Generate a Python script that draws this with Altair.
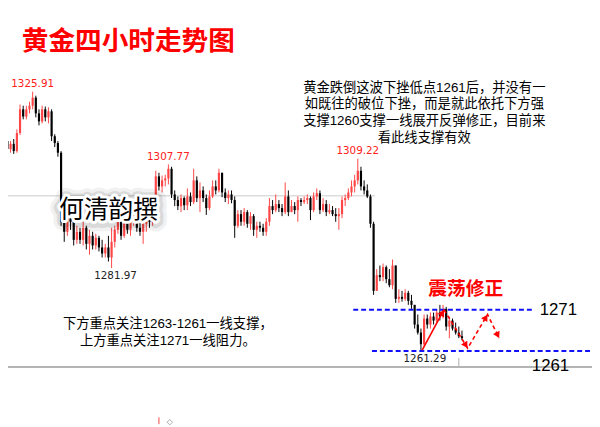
import math
import altair as alt
import pandas as pd

TITLE = "黄金四小时走势图"
NOTE_TOP = [
    "黄金跌倒这波下挫低点1261后，并没有一",
    "如既往的破位下挫，而是就此依托下方强",
    "支撑1260支撑一线展开反弹修正，目前来",
    "看此线支撑有效",
]
NOTE_BOTTOM = ["下方重点关注1263-1261一线支撑，", "上方重点关注1271一线阻力。"]
AUTHOR = "何清韵撰"
TAG = "震荡修正"

FIRST_INDEX = 2
FIRST_OPEN = 1313.6
CLOSE = [
    1311.6, 1312.9, 1311.1, 1315.6, 1321.5, 1319.7, 1321.5, 1322.4, 1324.4, 1320.5,
    1318.5, 1321.5, 1319.5, 1321.0, 1314.8, 1313.1, 1310.7, 1293.5, 1291.0, 1294.4,
    1293.5, 1289.0, 1291.0, 1289.0, 1292.0, 1288.0, 1290.0, 1287.6, 1289.5, 1287.1,
    1285.6, 1287.1, 1284.6, 1288.5, 1291.5, 1293.5, 1290.0, 1293.5, 1291.5, 1293.5,
    1294.9, 1292.0, 1291.0, 1293.0, 1293.9, 1293.5, 1294.9, 1304.8, 1302.3, 1303.8,
    1304.3, 1306.7, 1300.3, 1298.9, 1297.4, 1299.4, 1297.6, 1299.8, 1298.4, 1303.8,
    1299.4, 1301.3, 1299.4, 1296.9, 1299.8, 1302.3, 1301.3, 1305.7, 1300.8, 1299.4,
    1300.3, 1298.9, 1292.5, 1295.4, 1293.5, 1295.9, 1293.0, 1294.9, 1291.5, 1292.5,
    1292.0, 1291.0, 1293.5, 1297.4, 1296.4, 1297.9, 1296.9, 1295.9, 1299.8, 1295.9,
    1297.4, 1296.4, 1298.9, 1298.4, 1298.9, 1299.4, 1296.4, 1299.8, 1300.6, 1296.4,
    1297.9, 1295.9, 1296.4, 1295.4, 1294.9, 1295.4, 1298.9, 1299.4, 1300.8, 1302.3,
    1303.8, 1306.2, 1302.3, 1301.3, 1299.8, 1293.0, 1276.3, 1280.2, 1279.7, 1282.2,
    1279.2, 1277.7, 1282.6, 1274.3, 1274.8, 1274.3, 1275.8, 1273.8, 1272.8, 1267.9,
    1265.9, 1263.0, 1269.4, 1267.9, 1269.9, 1268.9, 1270.9, 1269.9, 1271.8, 1267.4,
    1268.9, 1266.9, 1265.9, 1265.0, 1264.5,
]
HIGH = [
    1314.1, 1313.6, 1314.1, 1316.5, 1322.7, 1322.4, 1322.4, 1323.4, 1325.91, 1324.9,
    1321.5, 1322.4, 1322.2, 1322.0, 1321.5, 1315.3, 1313.6, 1311.1, 1294.4, 1295.9,
    1295.9, 1294.4, 1292.5, 1292.0, 1293.5, 1292.5, 1291.5, 1291.0, 1290.5, 1290.0,
    1289.0, 1288.0, 1290.0, 1292.0, 1292.5, 1294.4, 1293.9, 1294.4, 1294.4, 1294.9,
    1295.9, 1295.4, 1293.5, 1293.9, 1295.4, 1294.9, 1295.9, 1306.2, 1305.7, 1305.0,
    1305.2, 1307.77, 1307.2, 1301.3, 1299.8, 1300.3, 1299.8, 1301.8, 1300.8, 1306.7,
    1304.8, 1303.3, 1302.3, 1300.3, 1301.3, 1303.8, 1303.8, 1306.7, 1305.7, 1301.8,
    1301.3, 1301.3, 1299.8, 1296.4, 1296.4, 1296.9, 1296.4, 1295.9, 1295.4, 1293.5,
    1293.5, 1293.0, 1294.4, 1299.4, 1298.9, 1300.3, 1298.9, 1297.9, 1303.3, 1301.3,
    1298.9, 1298.4, 1299.8, 1299.4, 1299.8, 1300.3, 1299.8, 1300.8, 1301.8, 1301.3,
    1299.4, 1298.9, 1297.9, 1297.4, 1296.9, 1296.9, 1299.8, 1300.3, 1301.8, 1303.8,
    1305.2, 1309.22, 1307.2, 1303.8, 1302.8, 1300.3, 1293.5, 1281.7, 1282.6, 1283.1,
    1282.6, 1281.7, 1284.1, 1282.6, 1276.7, 1276.3, 1276.7, 1276.3, 1275.3, 1272.8,
    1270.4, 1266.9, 1270.4, 1270.4, 1270.9, 1270.9, 1271.8, 1272.8, 1272.8, 1272.3,
    1269.9, 1269.4, 1268.4, 1267.4, 1266.4,
]
LOW = [
    1304.3, 1310.7, 1310.4, 1310.7, 1315.1, 1319.0, 1319.0, 1320.5, 1321.5, 1319.5,
    1317.5, 1318.0, 1318.5, 1318.0, 1313.6, 1312.1, 1309.7, 1292.5, 1288.5, 1290.0,
    1291.5, 1287.6, 1288.0, 1288.0, 1287.6, 1286.6, 1285.3, 1286.6, 1286.6, 1286.1,
    1284.6, 1284.6, 1283.6, 1281.97, 1287.1, 1290.5, 1289.0, 1289.5, 1290.5, 1290.0,
    1292.5, 1291.0, 1290.0, 1288.0, 1291.0, 1292.0, 1292.5, 1293.9, 1301.3, 1300.8,
    1302.3, 1302.8, 1299.4, 1297.4, 1296.4, 1295.9, 1296.4, 1296.4, 1297.4, 1297.9,
    1298.4, 1295.9, 1298.4, 1295.2, 1296.4, 1299.4, 1300.3, 1300.8, 1299.6, 1298.4,
    1297.9, 1298.1, 1289.5, 1292.0, 1292.5, 1292.5, 1292.0, 1291.5, 1290.0, 1289.5,
    1291.0, 1290.0, 1290.0, 1292.5, 1295.4, 1295.9, 1295.9, 1294.9, 1295.4, 1294.9,
    1295.9, 1295.4, 1293.5, 1297.4, 1297.9, 1297.9, 1293.9, 1295.9, 1298.9, 1295.4,
    1295.9, 1294.9, 1295.4, 1294.9, 1293.5, 1291.5, 1294.4, 1297.4, 1298.9, 1299.8,
    1300.8, 1302.8, 1301.3, 1300.3, 1299.4, 1292.0, 1275.3, 1276.3, 1278.7, 1278.7,
    1278.2, 1277.2, 1276.7, 1273.3, 1273.3, 1273.6, 1273.8, 1272.8, 1271.8, 1266.9,
    1265.4, 1261.29, 1262.5, 1266.9, 1266.9, 1267.9, 1268.4, 1268.9, 1269.4, 1266.4,
    1264.5, 1266.4, 1265.4, 1264.5, 1264.0,
]

HIGH_MARK_T = [10, 53, 113]
HIGH_MARK_P = [1325.91, 1307.77, 1309.22]
LOW_MARK_T = [35, 133]
LOW_MARK_P = [1281.97, 1261.29]

LEVELS = [1271.6, 1261.3]
LEVEL_TEXT = ["1271", "1261"]
GRID_LEVEL = 1300

ARROW_T = [133.4, 140.3, 147.8, 154.1, 157.8]
ARROW_P = [1261.5, 1271.6, 1262.0, 1270.4, 1264.5]

# ---------------------------------------------------------------- layout
W, H = 592, 419
X_DOM = [2.1875, 187.1875]
Y_DOM = [1243.09, 1346.03]
PX_T = W / (X_DOM[1] - X_DOM[0])
PX_P = H / (Y_DOM[1] - Y_DOM[0])
CJK = "Noto Sans CJK SC"
MIX = "Liberation Sans, Noto Sans CJK SC"
RED = "#ff4646"

xs = alt.Scale(domain=X_DOM, nice=False, zero=False)
ys = alt.Scale(domain=Y_DOM, nice=False, zero=False)

rows = []
prev = FIRST_OPEN
n = min(len(CLOSE), len(HIGH), len(LOW))
for k in range(n):
    o, c = prev, CLOSE[k]
    rows.append(dict(t=FIRST_INDEX + k, open=o, close=c,
                     high=max(HIGH[k], o, c), low=min(LOW[k], o, c),
                     dir="up" if c >= o else "down"))
    prev = c
cdf = pd.DataFrame(rows)

col = alt.Color("dir:N", scale=alt.Scale(domain=["up", "down"], range=[RED, "#000000"]), legend=None)
X = alt.X("t:Q", scale=xs, axis=None)

wicks = alt.Chart(cdf).mark_rule(strokeWidth=1).encode(
    x=X, y=alt.Y("low:Q", scale=ys, axis=None), y2="high:Q", color=col)
bodies = alt.Chart(cdf).mark_rule(strokeWidth=2.2).encode(
    x=X, y=alt.Y("open:Q", scale=ys, axis=None), y2="close:Q", color=col)

one = lambda: pd.DataFrame({"k": [0]})

def text_at(s, x, y, **kw):
    return alt.Chart(pd.DataFrame({"s": [s]})).mark_text(**kw).encode(
        x=alt.value(x), y=alt.value(y), text="s:N")

# grid line at 1300 and bottom separator
grid = alt.Chart(pd.DataFrame({"p": [GRID_LEVEL]})).mark_rule(color="#dddddd", strokeWidth=1.5).encode(
    y=alt.Y("p:Q", scale=ys, axis=None), x=alt.value(0), x2=alt.value(372))
sep = alt.Chart(one()).mark_rule(color="#b4b4b4", strokeWidth=2).encode(
    y=alt.value(361), x=alt.value(0), x2=alt.value(W))
tick = alt.Chart(one()).mark_rule(color="#b0b0b0", strokeWidth=1).encode(
    x=alt.value(457), y=alt.value(352), y2=alt.value(361))
frag = alt.Chart(one()).mark_rule(color=RED, strokeWidth=1).encode(
    x=alt.value(153), y=alt.value(412), y2=alt.value(419))
frag2 = alt.Chart(one()).mark_point(shape="diamond", color="#888", size=30, strokeWidth=1).encode(
    x=alt.value(164), y=alt.value(417))

# blue dashed levels
lv_upper = alt.Chart(pd.DataFrame({"p": [LEVELS[0]]})).mark_rule(
    color="#1010ff", strokeWidth=2, strokeDash=[5, 3]).encode(
    y=alt.Y("p:Q", scale=ys, axis=None), x=alt.value(350), x2=alt.value(532))
lv_lower = alt.Chart(pd.DataFrame({"p": [LEVELS[1]]})).mark_rule(
    color="#1010ff", strokeWidth=2, strokeDash=[5, 3]).encode(
    y=alt.Y("p:Q", scale=ys, axis=None), x=alt.value(369), x2=alt.value(W))
lvl_txt1 = alt.Chart(pd.DataFrame({"p": [LEVELS[0]], "s": [LEVEL_TEXT[0]]})).mark_text(
    font="Liberation Sans", fontSize=17, align="left", baseline="middle", color="#000").encode(
    y=alt.Y("p:Q", scale=ys, axis=None), x=alt.value(539), text="s:N")
lvl_txt2 = text_at(LEVEL_TEXT[1], 531, 360, font="Liberation Sans", fontSize=17,
                   align="left", baseline="middle", color="#000")

# price labels
hdf = pd.DataFrame({"t": HIGH_MARK_T, "p": HIGH_MARK_P, "s": [f"{v:.2f}" for v in HIGH_MARK_P]})
ldf = pd.DataFrame({"t": LOW_MARK_T, "p": LOW_MARK_P, "s": [f"{v:.2f}" for v in LOW_MARK_P]})
hi_lab = alt.Chart(hdf).mark_text(font="DejaVu Sans", fontSize=10.5, color="#ff2020",
                                  baseline="alphabetic", dy=-5).encode(
    x=X, y=alt.Y("p:Q", scale=ys, axis=None), text="s:N")
lo_lab = alt.Chart(ldf).mark_text(font="DejaVu Sans", fontSize=10.5, color="#222222",
                                  baseline="top", dy=3, dx=4).encode(
    x=X, y=alt.Y("p:Q", scale=ys, axis=None), text="s:N")

# arrows
pts = pd.DataFrame({"t": ARROW_T, "p": ARROW_P, "o": range(len(ARROW_T))})
solid = alt.Chart(pts.iloc[0:2]).mark_line(color="#ff0000", strokeWidth=1.6).encode(
    x=X, y=alt.Y("p:Q", scale=ys, axis=None), order="o:Q")
dashed = alt.Chart(pts.iloc[1:]).mark_line(color="#ff0000", strokeWidth=1.6, strokeDash=[4, 3]).encode(
    x=X, y=alt.Y("p:Q", scale=ys, axis=None), order="o:Q")
heads = []
for k in range(1, len(ARROW_T)):
    dx = (ARROW_T[k] - ARROW_T[k - 1]) * PX_T
    dy = -(ARROW_P[k] - ARROW_P[k - 1]) * PX_P
    ln = math.hypot(dx, dy)
    ux, uy = dx / ln, dy / ln
    ang = math.degrees(math.atan2(dx, -dy)) % 360
    heads.append(dict(t=ARROW_T[k] - 3.5 * ux / PX_T, p=ARROW_P[k] + 3.5 * uy / PX_P, a=ang))
head = alt.Chart(pd.DataFrame(heads)).mark_point(shape="triangle-up", filled=True, color="#ff0000",
                                                 size=55, opacity=1).encode(
    x=X, y=alt.Y("p:Q", scale=ys, axis=None), angle=alt.Angle("a:Q", scale=None))

# texts
title = text_at(TITLE, 14, 32, font=CJK, fontSize=27, fontWeight="bold", color="#ff0000",
                align="left", baseline="middle")
note1 = text_at("\n".join(NOTE_TOP), 422, 71, font=MIX, fontSize=13.5, color="#000",
                align="center", baseline="top", lineBreak="\n", lineHeight=17)
note2 = text_at("\n".join(NOTE_BOTTOM), 162, 311, font=MIX, fontSize=13.5, color="#000",
                align="center", baseline="top", lineBreak="\n", lineHeight=17)
tag = text_at(TAG, 464, 282, font=CJK, fontSize=19, fontWeight="bold", color="#ff0000",
              align="center", baseline="middle")

au_kw = dict(font=CJK, fontSize=25, align="center", baseline="middle", strokeJoin="round")
au1 = text_at(AUTHOR, 102, 203, color="#000", stroke="#000", strokeWidth=20, opacity=0.05, **au_kw)
au2 = text_at(AUTHOR, 102, 203, color="#000", stroke="#000", strokeWidth=13, opacity=0.09, **au_kw)
au3 = text_at(AUTHOR, 102, 202, color="#fff", stroke="#fff", strokeWidth=6, **au_kw)
au4 = text_at(AUTHOR, 102, 202, color="#000", **au_kw)

chart = alt.layer(
    grid, sep, tick, frag, frag2,
    wicks, bodies,
    lv_upper, lv_lower, lvl_txt1, lvl_txt2,
    solid, dashed, head,
    hi_lab, lo_lab,
    au1, au2, au3, au4,
    title, note1, note2, tag,
).properties(
    width=W, height=H, padding=0, autosize=alt.AutoSizeParams(type="none"), background="white"
).configure_view(stroke=None)

chart.save("out.html", embed_options={"renderer": "svg", "actions": False})
